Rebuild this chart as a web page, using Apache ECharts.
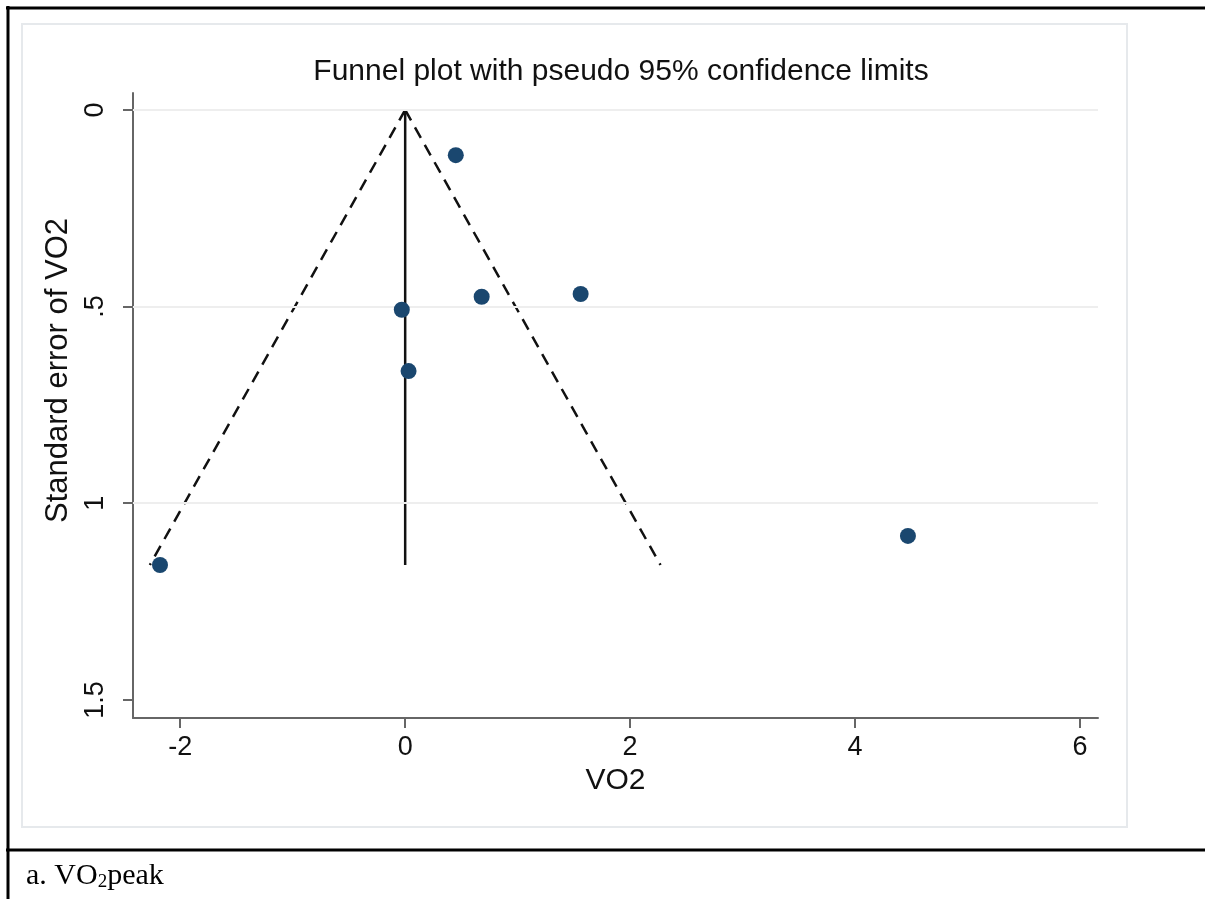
<!DOCTYPE html>
<html>
<head>
<meta charset="utf-8">
<script src="https://cdn.jsdelivr.net/npm/echarts@6/dist/echarts.min.js"></script>
<style>
  html, body { margin: 0; padding: 0; background: #ffffff; }
  #chart { width: 1205px; height: 899px; }
</style>
</head>
<body>
<div id="chart"></div>
<script>
// ---- data ----
const studyEffect = [0.45, -0.03, 0.68, 1.56, 0.03, -2.18, 4.47];      // VO2
const studyStdErr = [0.115, 0.508, 0.475, 0.468, 0.664, 1.157, 1.083]; // Standard error of VO2
const pooledLine = [[0, 0], [0, 1.157]];                 // pooled estimate
const lowerLimit = [[0, 0], [-2.27, 1.157]];             // pseudo 95% limit (left)
const upperLimit = [[0, 0], [2.27, 1.157]];              // pseudo 95% limit (right)
const xTicks = [-2, 0, 2, 4, 6];
const xTickLabels = ['-2', '0', '2', '4', '6'];
const yTicks = [0, 0.5, 1, 1.5];
const yTickLabels = ['0', '.5', '1', '1.5'];
const yGridValues = [0, 0.5, 1];
const titleText = 'Funnel plot with pseudo 95% confidence limits';
const xName = 'VO2';
const yName = 'Standard error of VO2';

const points = studyEffect.map((v, i) => [v, studyStdErr[i]]);
const sansFont = '"Liberation Sans", Arial, Helvetica, sans-serif';
const serifFont = '"Liberation Serif", "Times New Roman", serif';

const chart = echarts.init(document.getElementById('chart'), null, { renderer: 'canvas' });

const option = {
  backgroundColor: '#ffffff',
  animation: false,
  title: [
    {
      text: titleText,
      left: 616, textAlign: 'center',
      top: 52,
      textStyle: { fontFamily: sansFont, fontSize: 30, fontWeight: 'normal', color: '#111111' }
    },
    {
      text: '{a|a. VO}{s|2}{a|peak}',
      left: 21, top: 855,
      textStyle: {
        fontWeight: 'normal',
        rich: {
          a: { fontFamily: serifFont, fontSize: 30, fontWeight: 'normal', color: '#000', lineHeight: 32 },
          s: { fontFamily: serifFont, fontSize: 19, fontWeight: 'normal', color: '#000', lineHeight: 19, verticalAlign: 'bottom' }
        }
      }
    }
  ],
  graphic: [
    { type: 'rect', shape: { x: 22, y: 24, width: 1105, height: 803 }, style: { fill: '#ffffff', stroke: '#e6e9ec', lineWidth: 2 }, z: -10, silent: true },
    { type: 'line', shape: { x1: 6, y1: 8, x2: 1205, y2: 8 }, style: { stroke: '#000', lineWidth: 3 }, silent: true },
    { type: 'line', shape: { x1: 8, y1: 6, x2: 8, y2: 899 }, style: { stroke: '#000', lineWidth: 3 }, silent: true },
    { type: 'line', shape: { x1: 6, y1: 850, x2: 1205, y2: 850 }, style: { stroke: '#000', lineWidth: 3 }, silent: true }
  ],
  grid: { left: 133, right: 107, top: 93, bottom: 181, containLabel: false },
  xAxis: {
    type: 'value',
    min: -2.42, max: 6.16,
    name: xName, nameLocation: 'middle', nameGap: 45,
    nameTextStyle: { fontFamily: sansFont, fontSize: 30, color: '#111111' },
    axisLine: { show: true, onZero: false, lineStyle: { color: '#666666', width: 2 } },
    axisTick: { show: true, length: 10, customValues: xTicks, lineStyle: { color: '#666666', width: 2 } },
    axisLabel: {
      customValues: xTicks,
      formatter: (v) => { const i = xTicks.findIndex(t => Math.abs(t - v) < 1e-9); return i >= 0 ? xTickLabels[i] : ''; },
      fontFamily: sansFont, fontSize: 27, color: '#111111', margin: 16
    },
    splitLine: { show: false }
  },
  yAxis: {
    type: 'value',
    inverse: true,
    min: -0.043, max: 1.546,
    name: yName, nameLocation: 'middle', nameGap: 59, nameRotate: 90,
    nameTextStyle: { fontFamily: sansFont, fontSize: 31, color: '#111111', padding: [0, 0, 0, 70] },
    axisLine: { show: true, onZero: false, lineStyle: { color: '#666666', width: 2 } },
    axisTick: { show: true, length: 10, customValues: yTicks, lineStyle: { color: '#666666', width: 2 } },
    axisLabel: {
      customValues: yTicks,
      rotate: 90,
      formatter: (v) => { const i = yTicks.findIndex(t => Math.abs(t - v) < 1e-9); return i >= 0 ? yTickLabels[i] : ''; },
      fontFamily: sansFont, fontSize: 27, color: '#111111', margin: 24
    },
    splitLine: { show: false }
  },
  series: [
    {
      name: 'grid', type: 'line', data: [], silent: true,
      markLine: {
        silent: true, symbol: ['none', 'none'], label: { show: false },
        lineStyle: { color: '#eeeeee', width: 2, type: 'solid' },
        data: yGridValues.map(v => ({ yAxis: v }))
      },
      z: 1
    },
    {
      name: 'lower', type: 'line', data: lowerLimit, symbol: 'none', silent: true,
      lineStyle: { color: '#111111', width: 2.5, type: [12, 8] }, z: 3
    },
    {
      name: 'upper', type: 'line', data: upperLimit, symbol: 'none', silent: true,
      lineStyle: { color: '#111111', width: 2.5, type: [12, 8] }, z: 3
    },
    {
      name: 'pooled', type: 'line', data: pooledLine, symbol: 'none', silent: true,
      lineStyle: { color: '#111111', width: 2.5, type: 'solid' }, z: 3
    },
    {
      name: 'studies', type: 'scatter', data: points, symbol: 'circle', symbolSize: 16,
      itemStyle: { color: '#1a476f', opacity: 1 }, z: 5
    }
  ]
};
chart.setOption(option);
</script>
</body>
</html>
